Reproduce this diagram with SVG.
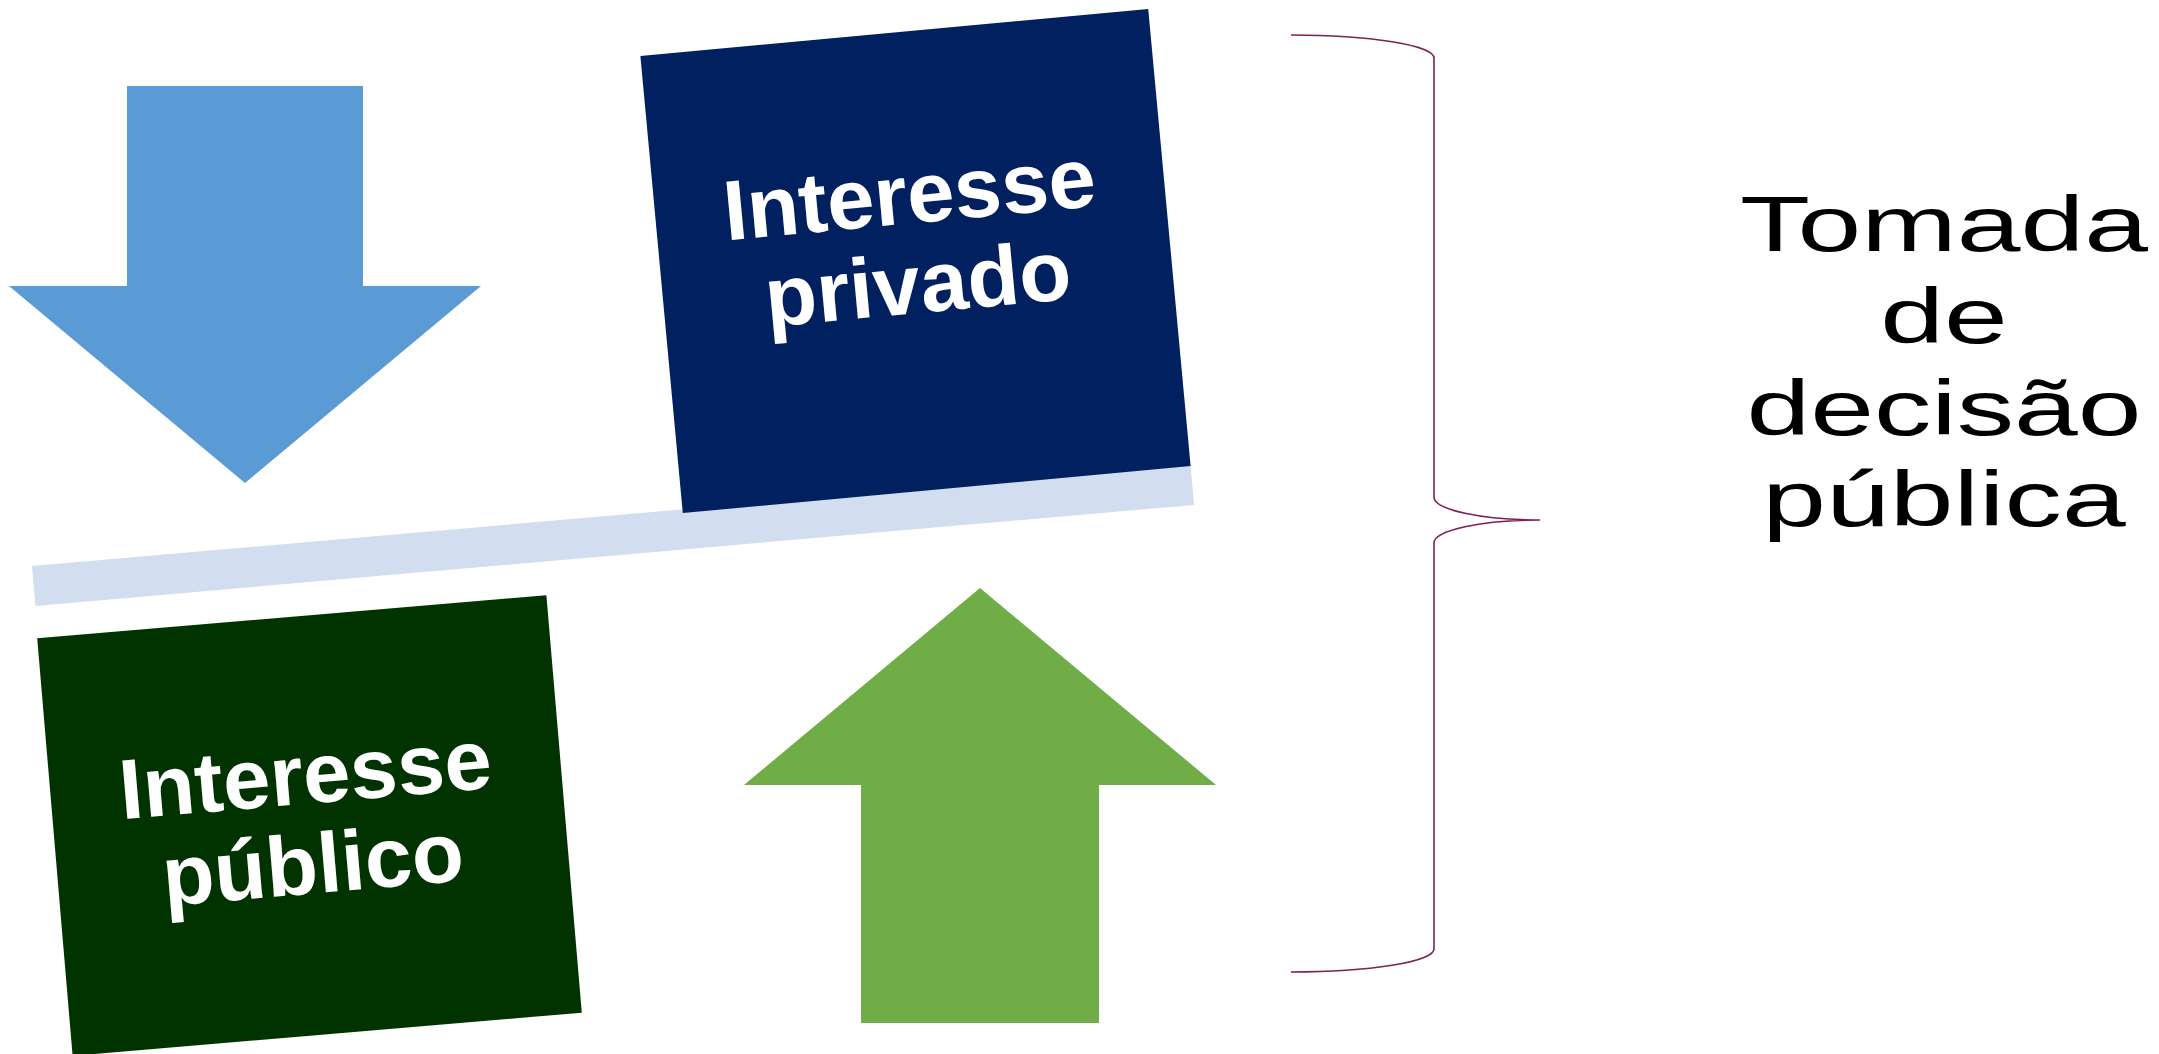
<svg xmlns="http://www.w3.org/2000/svg" width="2159" height="1054" viewBox="0 0 2159 1054">
<style>
.box-text{font-family:"Liberation Sans",Arial,sans-serif;font-weight:bold;fill:#FFFFFF;text-anchor:middle}
.side-text{font-family:"Liberation Sans",Arial,sans-serif;fill:#000000;text-anchor:middle;font-size:78px}
.brace{fill:none;stroke:#7E2152;stroke-width:1.6}
</style>
<rect width="2159" height="1054" fill="#FFFFFF"/>
<g id="arrow-down">
<polygon points="127,86 363,86 363,286 481,286 245,483 9,286 127,286" fill="#5B9BD5"/>
</g>
<g id="arrow-up">
<polygon points="980,588 1216,785 1099,785 1099,1023 861,1023 861,785 744,785" fill="#70AD47"/>
</g>
<g id="bar">
<rect x="-581.5" y="-20" width="1163" height="40" fill="#D2DEEF" transform="translate(613,535.5) rotate(-4.98)"/>
</g>
<g id="interesse-privado" transform="translate(915.5,261) rotate(-5.3)">
<rect x="-255" y="-229.5" width="510" height="459" fill="#002060"/>
<text class="box-text" font-size="85" x="0" y="-38">Interesse</text>
<text class="box-text" font-size="85" x="0" y="52">privado</text>
</g>
<g id="interesse-publico" transform="translate(309.5,825.5) rotate(-4.85)">
<rect x="-255.5" y="-209.5" width="511" height="419" fill="#003300"/>
<text class="box-text" font-size="85" x="0" y="-22">Interesse</text>
<text class="box-text" font-size="85" x="0" y="68">público</text>
</g>
<g id="connectors">
<path class="brace" d="M1291,35 A143,23 0 0 1 1434,58 L1434,497 A106,23 0 0 0 1540,520 A106,23 0 0 0 1434,543 L1434,949 A143,23 0 0 1 1291,972"/>
</g>
<g id="tomada-de-decisao" transform="translate(1944,0) scale(1.47,1)">
<text class="side-text" x="0" y="251">Tomada</text>
<text class="side-text" x="0" y="343">de</text>
<text class="side-text" x="0" y="435">decisão</text>
<text class="side-text" x="0" y="526">pública</text>
</g>
</svg>
